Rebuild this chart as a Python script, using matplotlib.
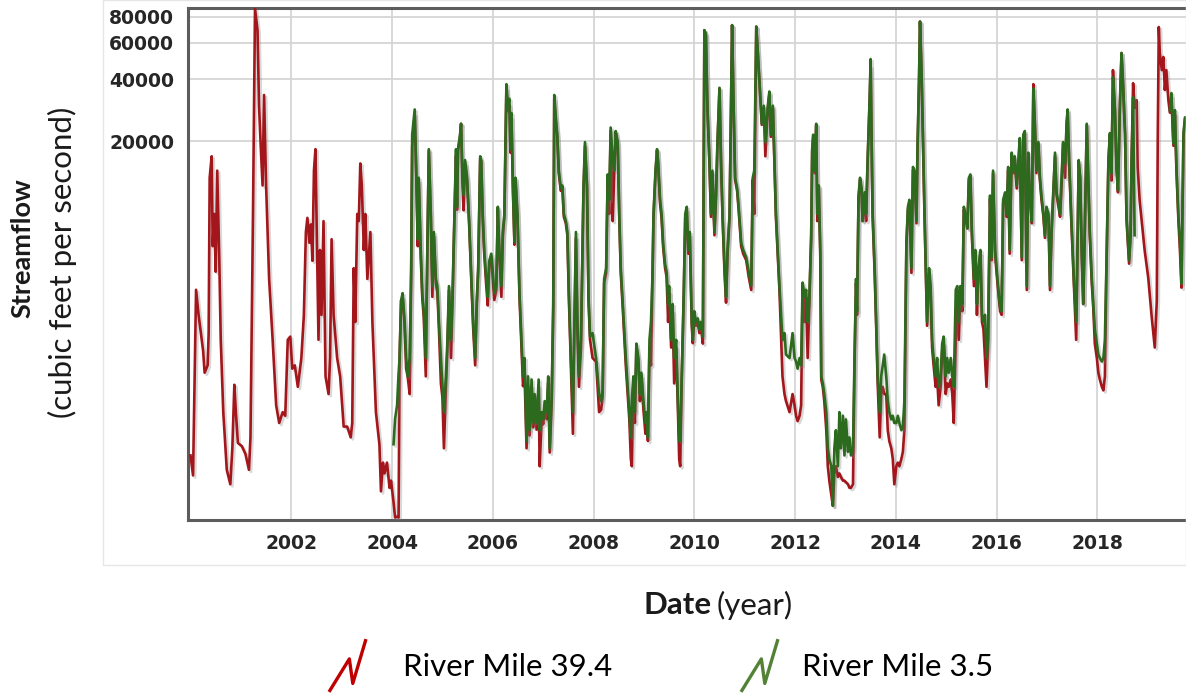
import numpy as np
import matplotlib
matplotlib.use("Agg")
import matplotlib.pyplot as plt
import matplotlib.patheffects as pe
from matplotlib.lines import Line2D
from matplotlib.path import Path
from matplotlib.patches import Rectangle
from matplotlib.ticker import FixedLocator, NullLocator, FixedFormatter

nan = np.nan

# ---- River Mile 39.4 only (before the River Mile 3.5 record starts) ----
early_years = [
    2000.00, 2000.05, 2000.11, 2000.16, 2000.25, 2000.28, 2000.34, 2000.36, 2000.38, 2000.42,
    2000.44, 2000.47, 2000.50, 2000.53, 2000.57, 2000.60, 2000.65, 2000.72, 2000.79, 2000.83,
    2000.87, 2000.90, 2000.94,
    2001.02, 2001.09, 2001.16, 2001.19, 2001.24, 2001.28, 2001.33, 2001.36, 2001.39, 2001.43,
    2001.46, 2001.50, 2001.53, 2001.56, 2001.63, 2001.70, 2001.76, 2001.83, 2001.88, 2001.93,
    2001.98,
    2002.02, 2002.07, 2002.13, 2002.20, 2002.25, 2002.29, 2002.32, 2002.36, 2002.39, 2002.42,
    2002.45, 2002.48, 2002.50, 2002.54, 2002.57, 2002.60, 2002.64, 2002.68, 2002.74, 2002.77,
    2002.80, 2002.84, 2002.91, 2002.97,
    2003.04, 2003.11, 2003.18, 2003.21, 2003.24, 2003.27, 2003.31, 2003.34, 2003.37, 2003.40,
    2003.44, 2003.47, 2003.51, 2003.57, 2003.61, 2003.68, 2003.75, 2003.78, 2003.82, 2003.85,
    2003.90, 2003.95, 2003.98,
]
early_red = [
    600, 480, 3810, 2880, 1930, 1510, 1640, 2350, 13300, 16900,
    6200, 8880, 4660, 14400, 5480, 2180, 973, 511, 435, 650,
    1320, 973, 690,
    665, 610, 511, 734, 8880, 87800, 69000, 29700, 19800, 12200,
    33500, 12200, 7260, 4300, 2180, 1050, 862, 973, 934, 2180,
    2260,
    1580, 1640, 1290, 1780, 2880, 7260, 8500, 6440, 7900, 5260,
    14400, 18300, 8880, 2180, 5940, 2880, 8200, 1450, 1190, 1780,
    6700, 2880, 1780, 1450,
    828, 828, 734, 862, 4850, 2660, 8880, 8200, 15600, 12200,
    5940, 8880, 4300, 7260, 2660, 973, 677, 402, 554, 491,
    554, 418, 453,
]

# ---- both gauges, 2004 onwards (nan = no River Mile 3.5 data) ----
years = [
    # 2004
    2004.03, 2004.06, 2004.10, 2004.13, 2004.15, 2004.18, 2004.21, 2004.25, 2004.28, 2004.31,
    2004.35, 2004.38, 2004.40, 2004.45, 2004.48, 2004.51, 2004.53, 2004.57, 2004.60, 2004.63,
    2004.67, 2004.70, 2004.73, 2004.77, 2004.80, 2004.83, 2004.87, 2004.90, 2004.93, 2004.97,
    # 2005
    2005.00, 2005.03, 2005.07, 2005.10, 2005.13, 2005.17, 2005.20, 2005.23, 2005.27, 2005.29,
    2005.31, 2005.35, 2005.37, 2005.40, 2005.42, 2005.45, 2005.49, 2005.53, 2005.58, 2005.61,
    2005.65, 2005.68, 2005.71, 2005.75, 2005.77, 2005.80, 2005.83, 2005.87, 2005.90, 2005.93,
    2005.97,
    # 2006
    2006.00, 2006.03, 2006.07, 2006.10, 2006.13, 2006.17, 2006.20, 2006.23, 2006.27, 2006.30,
    2006.33, 2006.35, 2006.37, 2006.40, 2006.43, 2006.45, 2006.49, 2006.53, 2006.57, 2006.60,
    2006.63, 2006.67, 2006.70, 2006.73, 2006.77, 2006.80, 2006.83, 2006.87, 2006.91, 2006.93,
    2006.97,
    # 2007
    2007.00, 2007.03, 2007.07, 2007.10, 2007.13, 2007.17, 2007.20, 2007.22, 2007.25, 2007.28,
    2007.31, 2007.35, 2007.38, 2007.41, 2007.45, 2007.48, 2007.51, 2007.55, 2007.59, 2007.62,
    2007.65, 2007.68, 2007.71, 2007.75, 2007.78, 2007.80, 2007.83, 2007.87, 2007.90, 2007.93,
    2007.98,
    # 2008
    2008.05, 2008.11, 2008.15, 2008.18, 2008.21, 2008.25, 2008.28, 2008.31, 2008.34, 2008.38,
    2008.41, 2008.44, 2008.48, 2008.51, 2008.54, 2008.58, 2008.64, 2008.71, 2008.74, 2008.76,
    2008.79, 2008.82, 2008.85, 2008.89, 2008.92, 2008.95, 2008.99,
    # 2009
    2009.03, 2009.05, 2009.08, 2009.11, 2009.14, 2009.17, 2009.19, 2009.23, 2009.26, 2009.28,
    2009.32, 2009.35, 2009.38, 2009.42, 2009.45, 2009.48, 2009.50, 2009.54, 2009.57, 2009.60,
    2009.64, 2009.67, 2009.70, 2009.72, 2009.75, 2009.79, 2009.82, 2009.85, 2009.88, 2009.91,
    2009.95, 2009.97,
    # 2010
    2010.00, 2010.03, 2010.07, 2010.10, 2010.13, 2010.17, 2010.20, 2010.23, 2010.26, 2010.30,
    2010.33, 2010.36, 2010.40, 2010.43, 2010.46, 2010.50, 2010.53, 2010.56, 2010.60, 2010.63,
    2010.66, 2010.70, 2010.75, 2010.78, 2010.81, 2010.85, 2010.88, 2010.93, 2010.97,
    # 2011
    2011.03, 2011.08, 2011.13, 2011.16, 2011.19, 2011.23, 2011.26, 2011.30, 2011.34, 2011.38,
    2011.41, 2011.46, 2011.49, 2011.52, 2011.56, 2011.59, 2011.62, 2011.69, 2011.75, 2011.79,
    2011.82, 2011.89, 2011.95, 2011.99,
    # 2012
    2012.02, 2012.05, 2012.09, 2012.12, 2012.15, 2012.19, 2012.22, 2012.25, 2012.28, 2012.32,
    2012.34, 2012.36, 2012.39, 2012.42, 2012.44, 2012.47, 2012.50, 2012.52, 2012.55, 2012.58,
    2012.62, 2012.65, 2012.68, 2012.72, 2012.75, 2012.78, 2012.81, 2012.85, 2012.88, 2012.91,
    2012.95, 2012.98,
    # 2013
    2013.01, 2013.05, 2013.08, 2013.11, 2013.15, 2013.18, 2013.21, 2013.23, 2013.26, 2013.29,
    2013.32, 2013.34, 2013.38, 2013.41, 2013.44, 2013.48, 2013.50, 2013.52, 2013.54, 2013.58,
    2013.61, 2013.64, 2013.68, 2013.71, 2013.74, 2013.77, 2013.81, 2013.84, 2013.87, 2013.91,
    2013.94, 2013.97,
    # 2014
    2014.01, 2014.04, 2014.07, 2014.11, 2014.14, 2014.17, 2014.21, 2014.24, 2014.27, 2014.31,
    2014.34, 2014.37, 2014.41, 2014.43, 2014.46, 2014.48, 2014.51, 2014.54, 2014.57, 2014.60,
    2014.62, 2014.66, 2014.69, 2014.72, 2014.75, 2014.79, 2014.82, 2014.85, 2014.89, 2014.92,
    2014.95, 2014.99,
    # 2015
    2015.02, 2015.05, 2015.09, 2015.12, 2015.15, 2015.19, 2015.22, 2015.25, 2015.28, 2015.32,
    2015.35, 2015.38, 2015.42, 2015.45, 2015.48, 2015.51, 2015.55, 2015.58, 2015.61, 2015.64,
    2015.68, 2015.71, 2015.74, 2015.77, 2015.80, 2015.83, 2015.87, 2015.90, 2015.93, 2015.97,
    # 2016
    2016.00, 2016.03, 2016.07, 2016.10, 2016.13, 2016.17, 2016.20, 2016.23, 2016.26, 2016.30,
    2016.33, 2016.36, 2016.40, 2016.43, 2016.46, 2016.50, 2016.53, 2016.56, 2016.60, 2016.63,
    2016.66, 2016.70, 2016.73, 2016.76, 2016.79, 2016.83, 2016.86, 2016.89, 2016.93, 2016.96,
    2016.99,
    # 2017
    2017.03, 2017.06, 2017.09, 2017.13, 2017.16, 2017.19, 2017.23, 2017.26, 2017.29, 2017.32,
    2017.36, 2017.39, 2017.41, 2017.44, 2017.48, 2017.51, 2017.54, 2017.58, 2017.60, 2017.63,
    2017.66, 2017.69, 2017.72, 2017.75, 2017.79, 2017.82, 2017.85, 2017.89, 2017.92, 2017.95,
    2017.99,
    # 2018
    2018.02, 2018.05, 2018.09, 2018.12, 2018.15, 2018.18, 2018.22, 2018.25, 2018.28, 2018.31,
    2018.35, 2018.38, 2018.41, 2018.45, 2018.48, 2018.51, 2018.55, 2018.58, 2018.63, 2018.66,
    2018.68, 2018.71, 2018.74, 2018.78, 2018.80, 2018.84, 2018.88, 2018.94,
    # 2019
    2019.01, 2019.08, 2019.14, 2019.18, 2019.20, 2019.22, 2019.24, 2019.28, 2019.31, 2019.34,
    2019.37, 2019.41, 2019.44, 2019.47, 2019.51, 2019.54, 2019.57, 2019.61, 2019.64, 2019.67,
    2019.71, 2019.74, 2019.76,
]

red_flow = [
    # 2004
    356, 300, 303, 300, 1780, 3380, 3500, 2550, 1580, 1450,
    1190, 4500, 19000, 27000, 14000, 6200, 12800, 5500, 3500, 2800,
    1450, 5700, 18000, 8500, 3520, 7000, 4100, 3700, 2500, 1340,
    # 2005
    1150, 650, 1300, 2000, 3800, 1780, 3300, 7000, 17000, 9300,
    18000, 21000, 24300, 12000, 9250, 15500, 12800, 8000, 3800, 2500,
    1640, 3100, 4700, 16500, 16000, 8500, 5700, 4000, 3200, 5000,
    5500,
    # 2006
    4300, 3400, 3800, 9400, 5700, 3520, 7000, 8600, 36000, 28000,
    30000, 17600, 26000, 11500, 6300, 13000, 8500, 3520, 2000, 1300,
    1500, 650, 1300, 750, 1300, 820, 1100, 800, 1300, 532,
    900,
    # 2007
    850, 1000, 900, 1350, 620, 1100, 3100, 32000, 25000, 21000,
    14000, 11500, 12000, 8600, 8000, 7000, 3500, 1640, 764, 2500,
    6800, 2400, 1290, 2000, 5700, 11500, 19000, 12000, 3400, 2180,
    1780,
    # 2008
    1710, 973, 1000, 1150, 4100, 4600, 13000, 8880, 22500, 8200,
    14000, 22000, 19500, 8600, 4600, 3100, 1640, 897, 577, 532,
    1400, 862, 2000, 1700, 1100, 1450, 1000,
    # 2009
    764, 900, 705, 2000, 1640, 4300, 8500, 14000, 18000, 15800,
    10000, 8500, 6200, 4850, 4400, 2660, 3700, 2000, 3000, 1340,
    2000, 1100, 577, 532, 1400, 3500, 8500, 9300, 5700, 7000,
    2550, 2100,
    # 2010
    2880, 2550, 2660, 2350, 2550, 2090, 69000, 65000, 29000, 15800,
    8600, 14000, 7000, 10500, 19500, 36000, 15800, 8600, 4600, 3300,
    5700, 8600, 73000, 29000, 13000, 11500, 9300, 6200, 5700,
    # 2011
    5300, 4400, 3800, 13000, 8880, 71800, 54000, 36000, 24000, 29000,
    16900, 29000, 34000, 21000, 29000, 15800, 8600, 3800, 1450, 1190,
    1100, 973, 1190, 1050,
    # 2012
    934, 880, 934, 1050, 4000, 2660, 3500, 1780, 3100, 6800,
    18000, 21000, 14000, 24000, 8200, 12000, 5700, 1400, 1290, 1100,
    795, 532, 453, 386, 342, 491, 532, 472, 491, 472,
    453, 453,
    # 2013
    445, 435, 418, 418, 435, 1640, 4100, 2880, 10500, 13000,
    11500, 8200, 11000, 8200, 15800, 31000, 46000, 19500, 8600, 4600,
    2550, 1340, 734, 1190, 1290, 1190, 1190, 795, 705, 650,
    577, 435,
    # 2014
    532, 554, 532, 577, 625, 795, 6200, 9300, 10000, 4600,
    14500, 14000, 8000, 18000, 38000, 76000, 44000, 19500, 8600, 4100,
    2550, 4600, 3800, 2000, 1640, 1290, 1450, 1050, 1290, 1930,
    2090, 1190,
    # 2015
    1340, 1290, 1400, 1190, 862, 2180, 3700, 2180, 3700, 3000,
    9300, 8600, 7560, 13000, 13500, 7000, 3970, 5700, 2880, 4600,
    5700, 2660, 2450, 1780, 1290, 2000, 10500, 5300, 14000, 5700,
    # 2016
    4600, 3800, 3000, 2880, 10000, 11000, 8600, 14500, 5700, 17000,
    14000, 16500, 11800, 15000, 20000, 5300, 21000, 22000, 3800, 17000,
    10500, 8000, 37800, 24000, 14000, 19500, 13000, 10500, 8600, 6800,
    9300,
    # 2017
    8600, 3800, 7000, 11800, 17000, 11000, 9600, 8600, 12000, 19500,
    13300, 24000, 28000, 15800, 8600, 5700, 3800, 2180, 4600, 15800,
    13000, 5700, 3250, 7000, 24000, 13000, 7000, 4100, 3100, 2090,
    1780,
    # 2018
    1510, 1400, 1290, 1240, 1450, 4700, 15800, 21500, 12900, 44200,
    28000, 14700, 11300, 31000, 53500, 38000, 21500, 8300, 5100, 6900,
    16000, 38200, 29000, 31600, 15000, 10300, 8270, 5890,
    # 2019
    4370, 2800, 2000, 3360, 21900, 71500, 53500, 44200, 51200, 35400,
    44200, 31600, 27500, 33000, 19000, 27000, 14500, 8200, 5900, 3900,
    21000, 25500, 24500,
]

green_flow = [
    # 2004
    680, 900, 1050, 1500, 1780, 3380, 3670, 2660, 1780, 1450,
    1780, 4850, 21500, 28500, 14400, 6700, 13300, 5940, 3670, 3000,
    1780, 5940, 18300, 8880, 3970, 7260, 4300, 3970, 2660, 1780,
    # 2005
    1290, 973, 1450, 2180, 3970, 2180, 3520, 7260, 18300, 9620,
    18300, 21500, 24300, 13300, 11000, 16200, 13300, 8200, 3970, 2660,
    1780, 3250, 4850, 16900, 16200, 8880, 5940, 4300, 3520, 5260,
    5700,
    # 2006
    4660, 3670, 3970, 9620, 5940, 3970, 7260, 8880, 37800, 29700,
    32100, 18300, 27400, 11800, 6500, 13300, 8880, 3670, 2180, 1450,
    1780, 705, 1450, 795, 1400, 862, 1190, 862, 1400, 795,
    973,
    # 2007
    897, 1100, 973, 1450, 650, 1190, 3250, 33500, 26300, 21500,
    14400, 11800, 12200, 8880, 8200, 7260, 3670, 1780, 973, 2660,
    7260, 2660, 1450, 2180, 5940, 11800, 19800, 12200, 3520, 2260,
    2350,
    # 2008
    1780, 1190, 1100, 1240, 4300, 4850, 13800, 10400, 23300, 16200,
    14400, 22400, 19800, 8880, 4850, 3250, 1780, 973, 734, 1100,
    1450, 973, 2090, 1780, 1190, 1510, 1100,
    # 2009
    862, 973, 734, 2180, 2660, 4480, 8880, 14400, 18300, 16200,
    10400, 8880, 6440, 5050, 4660, 3250, 3970, 2180, 3250, 1780,
    2180, 1190, 705, 705, 1450, 3670, 8880, 9620, 5940, 7260,
    2660, 2180,
    # 2010
    3000, 2660, 2770, 2450, 2660, 2260, 69000, 66200, 29700, 16200,
    8880, 14400, 7260, 10900, 19800, 36300, 16200, 8880, 4850, 3520,
    5940, 8880, 73000, 29700, 13300, 11800, 9620, 6440, 5940,
    # 2011
    5480, 4660, 4000, 13300, 14400, 71800, 54200, 36300, 24300, 29700,
    19800, 29700, 34800, 21500, 29700, 16200, 8880, 3970, 2180, 2350,
    1850, 1780, 2350, 1780,
    # 2012
    1710, 1580, 1780, 1640, 4130, 3520, 3810, 2660, 3250, 6980,
    18300, 21500, 14400, 24300, 8880, 12200, 5940, 1450, 1340, 1190,
    973, 650, 577, 532, 342, 650, 795, 532, 973, 650,
    934, 600,
    # 2013
    897, 625, 734, 600, 650, 1780, 4300, 3000, 10900, 13300,
    11800, 8200, 11300, 8880, 16200, 32100, 50000, 19800, 8880, 4850,
    2660, 1450, 973, 1450, 1640, 1850, 1450, 1100, 973, 897,
    934, 862,
    # 2014
    862, 934, 862, 795, 828, 1100, 6440, 9620, 10400, 4850,
    15000, 14400, 8200, 18300, 39300, 76000, 44300, 19800, 8880, 4300,
    2660, 4850, 3970, 2180, 1780, 1450, 1780, 1290, 1450, 2090,
    2260, 1450,
    # 2015
    1780, 1510, 1780, 1450, 1290, 3810, 3970, 2660, 3970, 3250,
    9620, 8880, 7560, 13300, 13800, 7260, 4300, 5940, 3250, 4850,
    5940, 2880, 2660, 2880, 1780, 2180, 10900, 5480, 14400, 5940,
    # 2016
    4850, 3970, 3120, 3000, 10400, 11300, 8880, 15000, 5940, 17600,
    14400, 16900, 12200, 15600, 20700, 5480, 21500, 22400, 3970, 17600,
    10900, 8200, 36000, 24300, 14400, 19800, 13300, 10900, 8880, 6980,
    9620,
    # 2017
    8880, 3970, 7260, 12200, 17600, 11300, 10000, 8880, 13300, 19800,
    15600, 24300, 28500, 16200, 8880, 5940, 3970, 2660, 4850, 16200,
    13300, 5940, 3250, 7260, 24300, 13300, 7260, 4300, 3250, 2450,
    2090,
    # 2018
    1850, 1780, 1710, 1780, 2180, 4900, 16200, 21900, 14000, 40900,
    28300, 15000, 11600, 31600, 53500, 38200, 21900, 8550, 5290, 7150,
    16200, 32700, 7000, nan, nan, nan, nan, nan,
    # 2019
    nan, nan, nan, nan, nan, nan, nan, nan, nan, nan,
    nan, nan, 28300, 34200, 19500, 28300, 15000, 8550, 6610, 4090,
    21900, 26100, 25000,
]

y_ticks = [20000, 40000, 60000, 80000]
x_ticks = [2002, 2004, 2006, 2008, 2010, 2012, 2014, 2016, 2018]
series_labels = ["River Mile 39.4", "River Mile 3.5"]

line_red = "#a3161b"
line_green = "#2c6a1e"
legend_red = "#c00000"
legend_green = "#548235"
text_color = "#1a1a1a"
tick_color = "#262626"
spine_color = "#5c5c5c"
grid_color = "#d2d2d2"

W, H = 1186, 695
fig = plt.figure(figsize=(W / 100, H / 100), dpi=100, facecolor="white")

# faint panel behind the chart
fig.patches.append(Rectangle(
    (103 / W, 1 - 565 / H), (W - 103) / W, 565 / H,
    transform=fig.transFigure, fill=False, edgecolor="#e6e6e6", lw=1.0,
))

ax = fig.add_axes([188 / W, 1 - 520 / H, 1 - 188 / W, 512 / H])

red_years = np.array(early_years + years)
red_all = np.array(early_red + red_flow, dtype=float)
green_all = np.array(green_flow, dtype=float)

shadow = [pe.SimpleLineShadow(offset=(1.5, -1.5), shadow_color="#808080", alpha=0.3), pe.Normal()]
ax.plot(red_years, red_all, color=line_red, lw=1.9, solid_joinstyle="round",
        path_effects=shadow, zorder=3)
ax.plot(np.array(years), green_all, color=line_green, lw=1.9, solid_joinstyle="round",
        path_effects=shadow, zorder=4)

ax.set_yscale("log")
ax.set_ylim(292, 88400)
ax.set_xlim(1999.95, 2019.76)

ax.yaxis.set_major_locator(FixedLocator(y_ticks))
ax.yaxis.set_major_formatter(FixedFormatter([str(v) for v in y_ticks]))
ax.yaxis.set_minor_locator(NullLocator())
ax.set_xticks(x_ticks)
ax.set_xticklabels([str(v) for v in x_ticks])

ax.grid(True, color=grid_color, lw=1.2)
ax.set_axisbelow(True)

ax.tick_params(axis="both", length=0, labelsize=13.5, labelcolor=tick_color)
ax.tick_params(axis="y", pad=10)
ax.tick_params(axis="x", pad=10)
for lbl in ax.get_xticklabels() + ax.get_yticklabels():
    lbl.set_fontweight("bold")
    lbl.set_fontfamily("DejaVu Sans")

for side in ["top", "left", "bottom"]:
    ax.spines[side].set_color(spine_color)
    ax.spines[side].set_linewidth(2.2)
ax.spines["right"].set_visible(False)

# axis titles
fig.text(22 / W, 1 - 248 / H, "Streamflow", rotation=90, ha="center", va="center",
         fontsize=19.5, fontweight="bold", family="Lato", color=text_color)
fig.text(62 / W, 1 - 262 / H, "(cubic feet per second)", rotation=90, ha="center",
         va="center", fontsize=22.5, family="Lato", color=text_color)

renderer = fig.canvas.get_renderer()
t_date = fig.text(643 / W, 1 - 605 / H, "Date", ha="left", va="center", fontsize=22.5,
                  fontweight="bold", family="Lato", color=text_color)
bb = t_date.get_window_extent(renderer)
fig.text((bb.x1 + 6) / W, 1 - 605 / H, "(year)", ha="left", va="center", fontsize=22.5,
         family="Lato", color=text_color)

# legend entries with zig-zag glyphs
bolt = Path(
    [(-0.35, -0.5), (0.035, 0.125), (0.10, -0.34), (0.35, 0.5)],
    [Path.MOVETO, Path.LINETO, Path.LINETO, Path.LINETO],
)
entries = [
    (legend_red, series_labels[0], 324, 1.02),
    (legend_green, series_labels[1], 736, 0.62),
]
for colour, label, left_px, textpad in entries:
    handle = Line2D([], [], marker=bolt, markersize=38, markerfacecolor="none",
                    markeredgecolor=colour, markeredgewidth=2.4, linestyle="none")
    leg = fig.legend([handle], [label], loc="center left",
                     bbox_to_anchor=(left_px / W, 1 - 667 / H), frameon=False,
                     prop={"family": "Lato", "size": 22.5}, handlelength=1.5,
                     handletextpad=textpad, borderpad=0, borderaxespad=0)

fig.savefig("out.png", dpi=100, facecolor="white")
